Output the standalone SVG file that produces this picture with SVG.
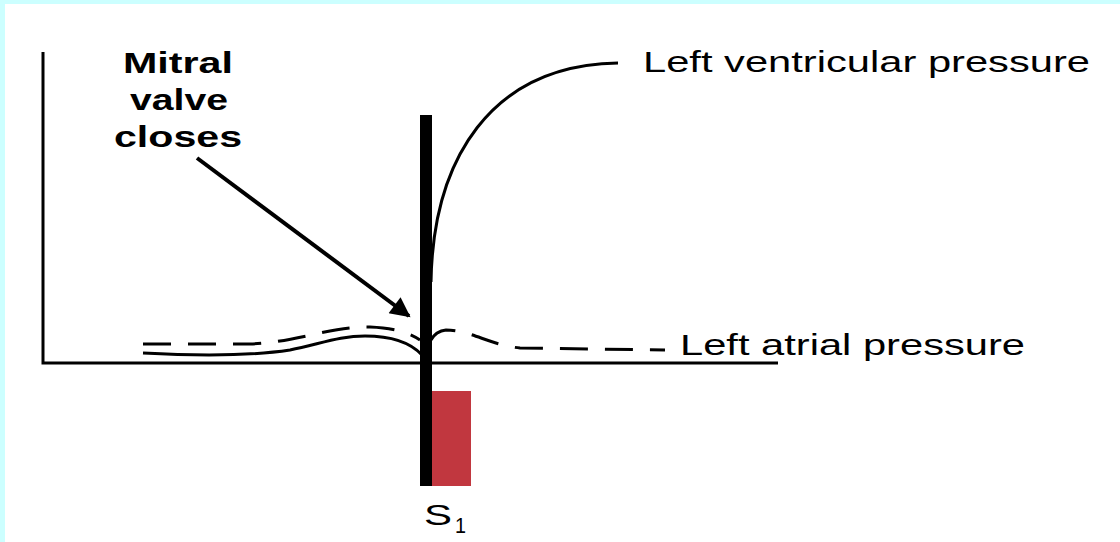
<svg xmlns="http://www.w3.org/2000/svg" width="1120" height="542" viewBox="0 0 1120 542">
  <defs>
    <style>
      .ax{fill:none;stroke:#000;stroke-width:3}
      .crv{fill:none;stroke:#000;stroke-width:3;stroke-linecap:butt}
      .dash{fill:none;stroke:#000;stroke-width:3;stroke-dasharray:28 17}
      .lbl{font-family:"Liberation Sans",Arial,sans-serif;font-size:30px;fill:#000}
      .bold{font-weight:bold;text-anchor:middle}
    </style>
    <marker id="ah" viewBox="0 0 10 10" refX="9" refY="5" markerWidth="6" markerHeight="5" orient="auto" markerUnits="strokeWidth">
      <path d="M0,0 L10,5 L0,10 z" fill="#000"/>
    </marker>
  </defs>
  <rect x="0" y="0" width="1120" height="542" fill="#ccffff"/>
  <rect x="5" y="4" width="1115" height="538" fill="#fff"/>

  <g id="axes">
    <path class="ax" d="M43,52 V363 H778"/>
  </g>

  <g id="s1-bar">
    <rect x="420" y="115" width="12" height="371" fill="#000"/>
    <rect x="432" y="391" width="39" height="95" fill="#c1373f"/>
    <text class="lbl" x="424" y="525" textLength="28" lengthAdjust="spacingAndGlyphs">S</text>
    <text class="lbl" x="455" y="533" style="font-size:22px" textLength="11" lengthAdjust="spacingAndGlyphs">1</text>
  </g>

  <g id="connectors">
    <path id="lv-curve" class="crv" d="M431,282 C433,160 490,65 618,63"/>
    <path id="la-dash-left" class="dash" d="M143,344 L250,344 C300,342 330,326 370,327 C395,328 410,333 420,340"/>
    <path id="la-dash-right" class="dash" d="M431,340 Q436,331 446,330 C470,330 490,345 520,348 L665,350"/>
    <path id="solid-left" class="crv" d="M143,353 C200,356 250,356 290,350 C320,344 340,336 365,336 C390,336 410,342 422,355"/>
    <line id="arrow" x1="197" y1="158" x2="409" y2="316" stroke="#000" stroke-width="4" marker-end="url(#ah)"/>
  </g>

  <g id="label-mitral">
    <text class="lbl bold" x="178" y="73" textLength="110" lengthAdjust="spacingAndGlyphs">Mitral</text>
    <text class="lbl bold" x="179" y="110" textLength="98" lengthAdjust="spacingAndGlyphs">valve</text>
    <text class="lbl bold" x="178" y="147" textLength="128" lengthAdjust="spacingAndGlyphs">closes</text>
  </g>

  <g id="label-lv">
    <text class="lbl" x="643" y="72" textLength="447" lengthAdjust="spacingAndGlyphs">Left ventricular pressure</text>
  </g>

  <g id="label-la">
    <text class="lbl" x="680" y="355" textLength="345" lengthAdjust="spacingAndGlyphs">Left atrial pressure</text>
  </g>
</svg>
